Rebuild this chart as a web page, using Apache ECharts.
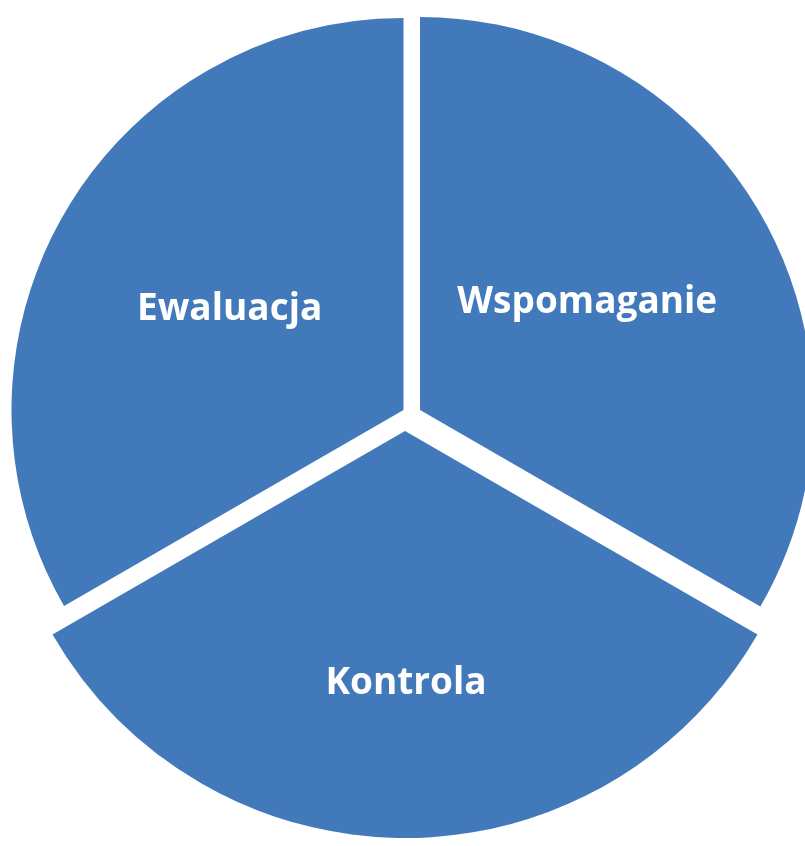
<!DOCTYPE html>
<html><head><meta charset="utf-8">
<script src="https://cdn.jsdelivr.net/npm/echarts@6/dist/echarts.min.js"></script>
<style>html,body{margin:0;padding:0;background:#fff}#c{width:805px;height:846px}</style>
</head><body><div id="c"></div>
<script>
// Data
const categories = ['Wspomaganie', 'Kontrola', 'Ewaluacja'];
const values = [1, 1, 1];

// Layout of each exploded slice (pixel geometry, separate from data)
const sliceCenters = [[420, 410], [405, 431], [403.5, 410]];
const sliceRadii = [393, 407, 392];
const labelShift = [[-5.5, -8], [1, 46], [-1.5, -1]];
const BLUE = '#4279BB';

const chart = echarts.init(document.getElementById('c'), null, {renderer: 'canvas'});
const series = categories.map((_, i) => ({
  type: 'pie',
  center: sliceCenters[i],
  radius: sliceRadii[i],
  startAngle: 90,
  clockwise: true,
  silent: true,
  animation: false,
  avoidLabelOverlap: false,
  labelLine: {show: false},
  emphasis: {disabled: true},
  label: {
    show: true,
    position: 'inside',
    color: '#fff',
    fontFamily: 'Open Sans',
    fontWeight: 'bold',
    fontSize: 37
  },
  labelLayout: () => ({dx: labelShift[i][0], dy: labelShift[i][1]}),
  data: categories.map((name, j) => ({
    name: name,
    value: values[j],
    itemStyle: {color: j === i ? BLUE : 'rgba(0,0,0,0)', borderWidth: 0},
    label: {show: j === i}
  }))
}));

chart.setOption({
  animation: false,
  backgroundColor: '#ffffff',
  series: series
});
</script>
</body></html>
